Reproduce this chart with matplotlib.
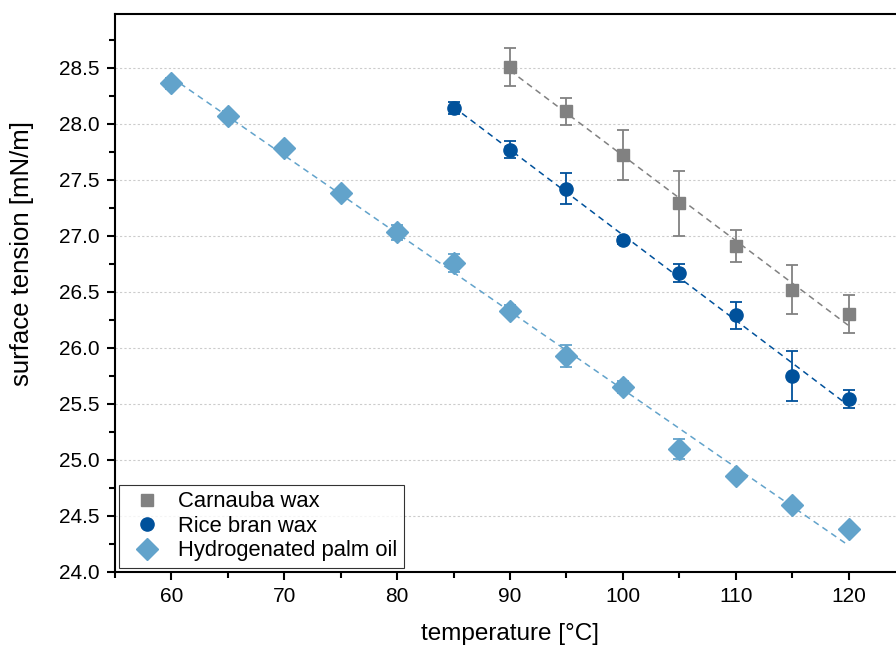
import numpy as np
import matplotlib
matplotlib.use("Agg")
import matplotlib.pyplot as plt
from matplotlib.ticker import MultipleLocator, FormatStrFormatter

plt.rcParams["font.family"] = ["Liberation Sans", "DejaVu Sans"]

# --- data ---
temp_carnauba = [90, 95, 100, 105, 110, 115, 120]
st_carnauba = [28.51, 28.11, 27.72, 27.29, 26.91, 26.52, 26.30]
err_carnauba = [0.17, 0.12, 0.22, 0.29, 0.14, 0.22, 0.17]

temp_rice = [85, 90, 95, 100, 105, 110, 115, 120]
st_rice = [28.14, 27.77, 27.42, 26.96, 26.67, 26.29, 25.75, 25.54]
err_rice = [0.05, 0.08, 0.14, 0.03, 0.08, 0.12, 0.22, 0.08]

temp_palm = [60, 65, 70, 75, 80, 85, 90, 95, 100, 105, 110, 115, 120]
st_palm = [28.36, 28.07, 27.78, 27.38, 27.03, 26.76, 26.33, 25.93, 25.65, 25.10,
           24.86, 24.60, 24.38]
err_palm = [0.05, 0.04, 0.04, 0.03, 0.07, 0.08, 0.05, 0.10, 0.05, 0.09, 0.03,
            0.02, 0.02]

series = [
    ("Carnauba wax", temp_carnauba, st_carnauba, err_carnauba, "#818181", "s", 9),
    ("Rice bran wax", temp_rice, st_rice, err_rice, "#00519b", "o", 9.5),
    ("Hydrogenated palm oil", temp_palm, st_palm, err_palm, "#62a3cb", "D", 11),
]

fig = plt.figure(figsize=(8.96, 6.46), dpi=100)
# right edge of the axes falls outside the figure, as in the reference crop
ax = fig.add_axes([0.1283, 0.1146, 0.8817, 0.8638])

for label, x, y, err, color, marker, ms in series:
    x = np.asarray(x, dtype=float)
    y = np.asarray(y, dtype=float)
    slope, icpt = np.polyfit(x, y, 1)
    ax.plot(x, slope * x + icpt, ls=(0, (4, 3)), color=color, lw=1.1, zorder=2)
    ax.errorbar(x, y, yerr=err, fmt=marker, color=color, ms=ms,
                mec=color, mfc=color, ecolor=color, elinewidth=1.3,
                capsize=4.3, capthick=1.3, label=label, zorder=3)

ax.set_xlim(55, 125)
ax.set_ylim(24.0, 28.98)
ax.xaxis.set_major_locator(MultipleLocator(10))
ax.xaxis.set_minor_locator(MultipleLocator(5))
ax.yaxis.set_major_locator(MultipleLocator(0.5))
ax.yaxis.set_minor_locator(MultipleLocator(0.25))
ax.yaxis.set_major_formatter(FormatStrFormatter("%.1f"))
ax.tick_params(which="major", direction="out", length=6, width=1.5,
               labelsize=15, pad=5)
ax.tick_params(which="minor", direction="out", length=4, width=1.5)
ax.grid(axis="y", which="major", ls=(0, (2, 2)), color="#cccccc", lw=0.8)
ax.set_axisbelow(True)
for sp in ax.spines.values():
    sp.set_linewidth(1.5)

ax.set_xlabel("temperature [°C]", fontsize=17.5, labelpad=12)
ax.set_ylabel("surface tension [mN/m]", fontsize=18.5)
ax.yaxis.set_label_coords(-0.103, 0.57)

handles, labels = ax.get_legend_handles_labels()
handles = [h[0] for h in handles]
leg = ax.legend(handles, labels, loc="lower left", fontsize=15.8, frameon=True,
                fancybox=False, edgecolor="black", borderaxespad=0.18,
                handletextpad=0.38, labelspacing=0.16, borderpad=0.3,
                handlelength=2.0)
leg.get_frame().set_linewidth(0.8)

fig.savefig("out.png", dpi=100)
